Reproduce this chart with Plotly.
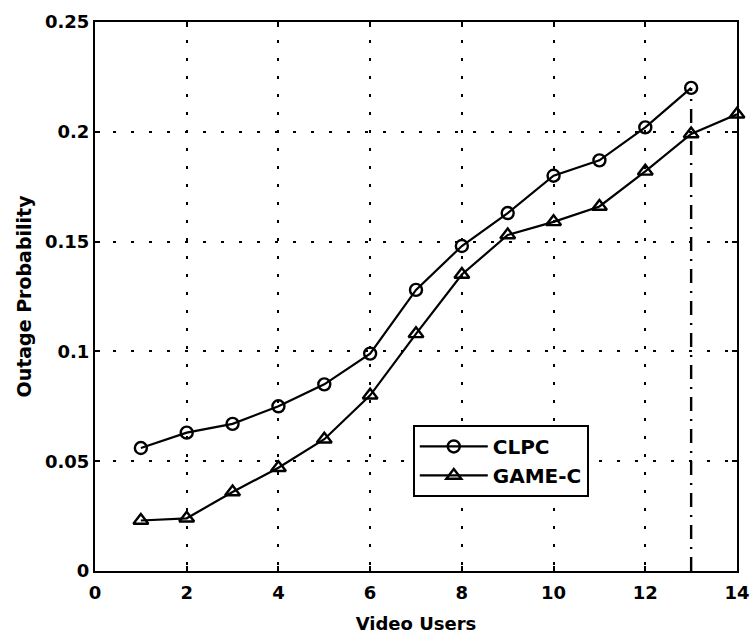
import plotly.graph_objects as go

# Number of video users on the x axis
video_users = [1, 2, 3, 4, 5, 6, 7, 8, 9, 10, 11, 12, 13, 14]

# Outage probability per scheme
clpc = [0.056, 0.063, 0.067, 0.075, 0.085, 0.099, 0.128, 0.148, 0.163, 0.180, 0.187, 0.202, 0.220]
game_c = [0.023, 0.024, 0.036, 0.047, 0.060, 0.080, 0.108, 0.135, 0.153, 0.159, 0.166, 0.182, 0.199, 0.208]

# Capacity marker at 13 users
capacity_users = 13

x_ticks = [0, 2, 4, 6, 8, 10, 12, 14]
y_ticks = [0, 0.05, 0.1, 0.15, 0.2, 0.25]
y_tick_text = ["0", "0.05", "0.1", "0.15", "0.2", "0.25"]

FONT = "DejaVu Sans, Arial, sans-serif"

fig = go.Figure()

fig.add_trace(go.Scatter(
    x=[capacity_users, capacity_users],
    y=[0, clpc[video_users.index(capacity_users)]],
    mode="lines",
    line=dict(color="black", width=2.4, dash="14px,8px,2px,8px"),
    showlegend=False,
    hoverinfo="skip",
))

fig.add_trace(go.Scatter(
    x=video_users[:len(clpc)], y=clpc, name="CLPC",
    mode="lines+markers",
    line=dict(color="black", width=2.2),
    marker=dict(symbol="circle-open", size=12, color="black", line=dict(width=2.4)),
    cliponaxis=False,
))

fig.add_trace(go.Scatter(
    x=video_users, y=game_c, name="GAME-C",
    mode="lines+markers",
    line=dict(color="black", width=2.2),
    marker=dict(symbol="triangle-up-open", size=13, color="black", line=dict(width=2.4)),
    cliponaxis=False,
))

axis_common = dict(
    showline=True, linecolor="black", linewidth=2.2, mirror="ticks",
    ticks="inside", ticklen=5, tickcolor="black", tickwidth=1.5,
    showgrid=True, gridcolor="black", gridwidth=1.5, griddash="3px,15px",
    zeroline=False, automargin=False,
    tickfont=dict(family=FONT, size=18, color="black", weight="bold"),
)

fig.update_xaxes(
    range=[0, 14], tickvals=x_ticks, ticklabelstandoff=4,
    title=dict(text="Video Users", font=dict(family=FONT, size=18, color="black", weight="bold"), standoff=16),
    **axis_common,
)
fig.update_yaxes(
    range=[0, 0.25], tickvals=y_ticks, ticktext=y_tick_text,
    title=dict(text="Outage Probability", font=dict(family=FONT, size=19, color="black", weight="bold"), standoff=8),
    **axis_common,
)

fig.update_layout(
    width=753, height=638,
    margin=dict(l=95, r=16, t=22, b=67),
    paper_bgcolor="white", plot_bgcolor="white",
    legend=dict(
        x=0.495, y=0.266, xanchor="left", yanchor="top",
        bgcolor="white", bordercolor="black", borderwidth=2,
        font=dict(family=FONT, size=20, color="black", weight="bold"),
        itemwidth=68, tracegroupgap=0,
    ),
)

fig.write_html("out.html")
